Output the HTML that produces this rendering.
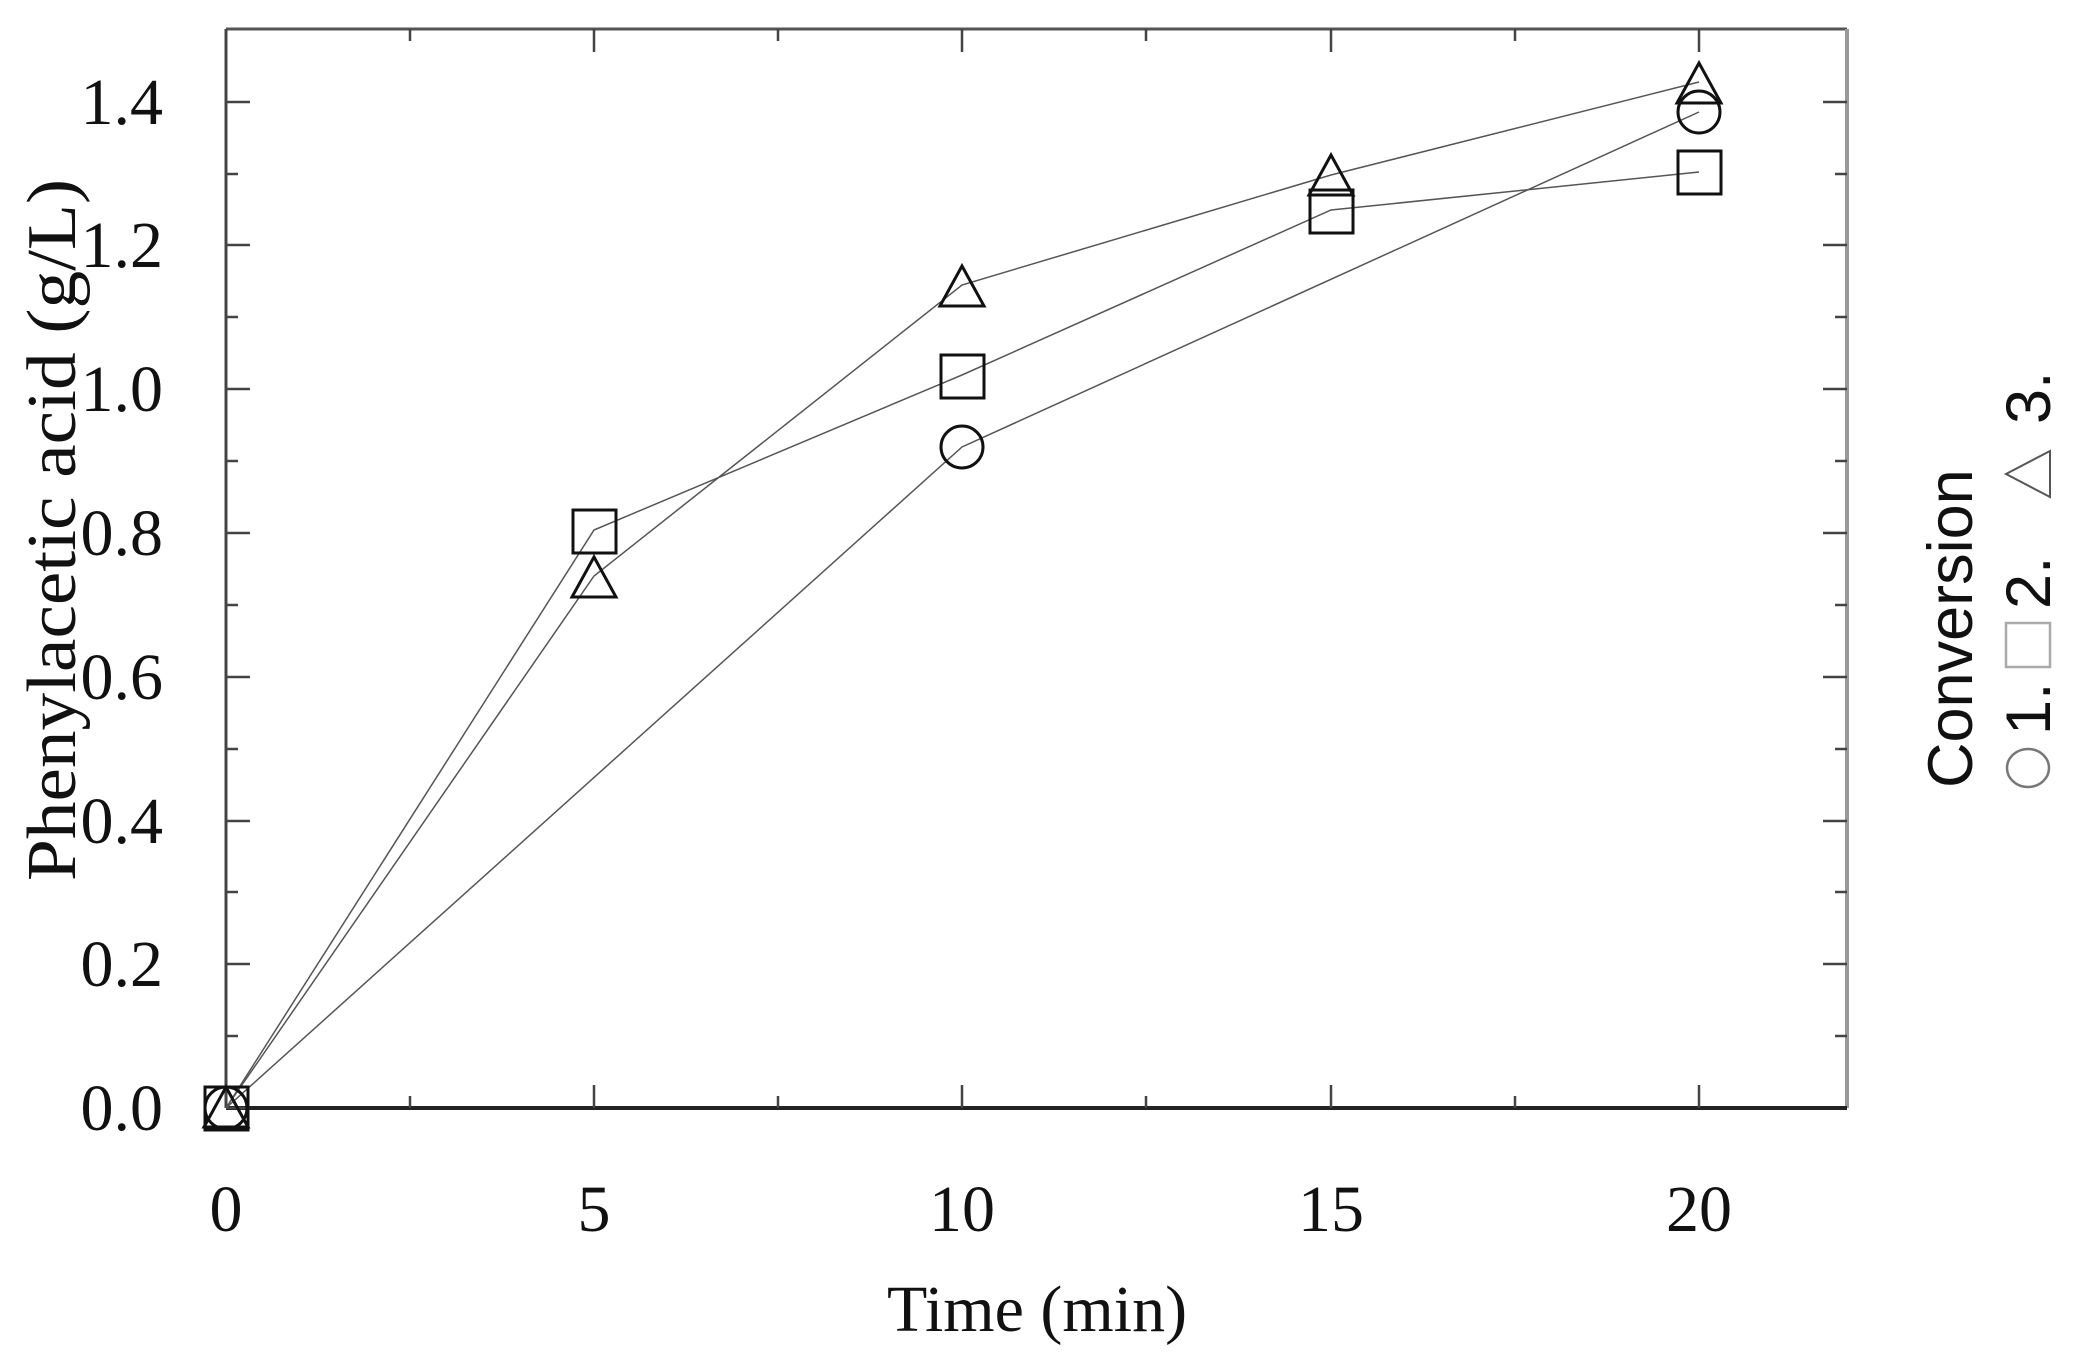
<!DOCTYPE html>
<html><head><meta charset="utf-8"><style>
html,body{margin:0;padding:0;background:#fff;}
svg{display:block;}
.t{font-family:"Liberation Serif",serif;font-size:66px;fill:#111;}
.s{font-family:"Liberation Sans",sans-serif;font-size:63px;fill:#111;}
</style></head><body>
<svg width="2076" height="1372" viewBox="0 0 2076 1372" xmlns="http://www.w3.org/2000/svg">
<line x1="226" y1="29" x2="1847" y2="29" stroke="#555" stroke-width="3"/>
<line x1="1847" y1="29" x2="1847" y2="1108" stroke="#999" stroke-width="4"/>
<line x1="226" y1="29" x2="226" y2="1108" stroke="#444" stroke-width="3"/>
<line x1="226" y1="1108" x2="1847" y2="1108" stroke="#222" stroke-width="4"/>
<g stroke="#444" stroke-width="2.5">
<line x1="226" y1="1108" x2="250" y2="1108"/><line x1="226" y1="1036" x2="238" y2="1036"/>
<line x1="226" y1="964" x2="250" y2="964"/><line x1="226" y1="892" x2="238" y2="892"/>
<line x1="226" y1="821" x2="250" y2="821"/><line x1="226" y1="749" x2="238" y2="749"/>
<line x1="226" y1="677" x2="250" y2="677"/><line x1="226" y1="605" x2="238" y2="605"/>
<line x1="226" y1="533" x2="250" y2="533"/><line x1="226" y1="461" x2="238" y2="461"/>
<line x1="226" y1="389" x2="250" y2="389"/><line x1="226" y1="317" x2="238" y2="317"/>
<line x1="226" y1="245" x2="250" y2="245"/><line x1="226" y1="174" x2="238" y2="174"/>
<line x1="226" y1="102" x2="250" y2="102"/>
<line x1="1847" y1="1036" x2="1835" y2="1036"/>
<line x1="1847" y1="964" x2="1823" y2="964"/><line x1="1847" y1="892" x2="1835" y2="892"/>
<line x1="1847" y1="821" x2="1823" y2="821"/><line x1="1847" y1="749" x2="1835" y2="749"/>
<line x1="1847" y1="677" x2="1823" y2="677"/><line x1="1847" y1="605" x2="1835" y2="605"/>
<line x1="1847" y1="533" x2="1823" y2="533"/><line x1="1847" y1="461" x2="1835" y2="461"/>
<line x1="1847" y1="389" x2="1823" y2="389"/><line x1="1847" y1="317" x2="1835" y2="317"/>
<line x1="1847" y1="245" x2="1823" y2="245"/><line x1="1847" y1="174" x2="1835" y2="174"/>
<line x1="1847" y1="102" x2="1823" y2="102"/>
<line x1="410" y1="1108" x2="410" y2="1096"/><line x1="594" y1="1108" x2="594" y2="1085"/>
<line x1="778" y1="1108" x2="778" y2="1096"/><line x1="962" y1="1108" x2="962" y2="1085"/>
<line x1="1146" y1="1108" x2="1146" y2="1096"/><line x1="1331" y1="1108" x2="1331" y2="1085"/>
<line x1="1515" y1="1108" x2="1515" y2="1096"/><line x1="1699" y1="1108" x2="1699" y2="1085"/>
<line x1="410" y1="29" x2="410" y2="41"/><line x1="594" y1="29" x2="594" y2="52"/>
<line x1="778" y1="29" x2="778" y2="41"/><line x1="962" y1="29" x2="962" y2="52"/>
<line x1="1146" y1="29" x2="1146" y2="41"/><line x1="1331" y1="29" x2="1331" y2="52"/>
<line x1="1515" y1="29" x2="1515" y2="41"/><line x1="1699" y1="29" x2="1699" y2="52"/>
</g>
<g class="t" text-anchor="end">
<text x="163" y="1130">0.0</text><text x="163" y="986">0.2</text><text x="163" y="843">0.4</text>
<text x="163" y="699">0.6</text><text x="163" y="555">0.8</text><text x="163" y="411">1.0</text>
<text x="163" y="267">1.2</text><text x="163" y="124">1.4</text>
</g>
<g class="t" text-anchor="middle">
<text x="226" y="1231">0</text><text x="594" y="1231">5</text><text x="962" y="1231">10</text>
<text x="1331" y="1231">15</text><text x="1699" y="1231">20</text>
<text x="1037" y="1331">Time (min)</text>
<text transform="translate(75,530) rotate(-90)" style="font-size:70px" textLength="702" lengthAdjust="spacingAndGlyphs">Phenylacetic acid (g/L)</text>
</g>
<g fill="none" stroke="#555" stroke-width="1.5">
<polyline points="226,1108 962,447 1699,112"/>
<polyline points="226,1108 594,530 962,375 1331,210 1699,172"/>
<polyline points="226,1108 594,576 962,285 1331,175 1699,82"/>
</g>
<g fill="none" stroke="#111" stroke-width="3">
<circle cx="226" cy="1108" r="21"/><circle cx="962" cy="447" r="21"/><circle cx="1699" cy="112" r="21"/>
<rect x="205" y="1087" width="43" height="43"/><rect x="573" y="510" width="43" height="43"/>
<rect x="941" y="355" width="43" height="43"/><rect x="1310" y="190" width="43" height="43"/>
<rect x="1678" y="151" width="43" height="43"/>
<polygon points="226,1087 248,1127 204,1127"/><polygon points="594,557 616,597 572,597"/>
<polygon points="962,266 984,306 940,306"/><polygon points="1331,155 1353,195 1309,195"/>
<polygon points="1699,63 1721,103 1677,103"/>
</g>
<text class="s" transform="translate(1972,788) rotate(-90)">Conversion</text>
<g transform="translate(2050,788) rotate(-90)">
<ellipse cx="20" cy="-22" rx="19" ry="21" fill="none" stroke="#777" stroke-width="2.5"/>
<text class="s" x="53" y="0">1.</text>
<rect x="121" y="-44" width="44" height="44" fill="none" stroke="#aaa" stroke-width="2.5"/>
<text class="s" x="179" y="0">2.</text>
<polygon points="314,-44 337,0 291,0" fill="none" stroke="#555" stroke-width="2"/>
<text class="s" x="364" y="0">3.</text>
</g>
</svg>
</body></html>
